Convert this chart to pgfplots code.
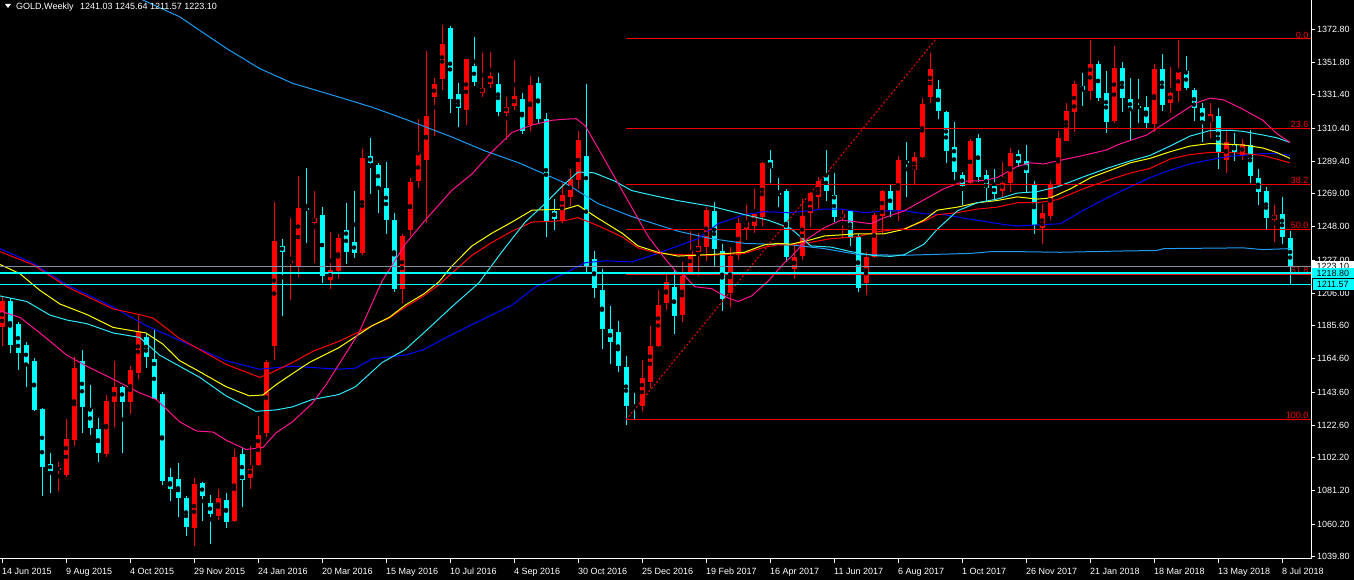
\documentclass[border=0pt]{standalone}
\usepackage{pgfplots}
\pgfplotsset{compat=1.18}
\usepackage{pgfplotstable}
\usepackage{fontspec}
\setmainfont{Liberation Sans}

\definecolor{bull}{HTML}{FF0000}
\definecolor{bear}{HTML}{00FFFF}
\definecolor{mapink}{HTML}{FF1493}
\definecolor{maaqua}{HTML}{30E8F8}
\definecolor{malblue}{HTML}{1E9BF0}
\definecolor{mablue}{HTML}{0000FF}
\definecolor{mared}{HTML}{FF0000}
\definecolor{mayellow}{HTML}{FFFF00}
\definecolor{bidgray}{HTML}{8090A0}
\definecolor{fibred}{HTML}{F00000}

% weekly candles, k = week index from 14 Jun 2015
\pgfplotstableread{
k o h l c
0 1184.4 1204.3 1172.8 1200.8
7 1094.5 1099.6 1080.9 1095.5
8 1091.4 1126.5 1089.8 1113.9
9 1113.2 1165.7 1109.6 1158.7
13 1104.5 1141.7 1102.6 1138.2
14 1137.2 1163.4 1121.4 1147.0
16 1137.0 1159.9 1130.0 1157.6
17 1155.9 1193.1 1151.7 1182.1
24 1057.5 1089.3 1046.6 1085.6
27 1065.3 1082.3 1062.9 1076.9
29 1062.2 1107.3 1061.7 1102.6
31 1089.3 1109.7 1082.3 1096.8
32 1097.3 1128.4 1096.8 1116.7
33 1117.8 1164.1 1115.5 1162.7
34 1172.8 1263.9 1164.1 1238.9
36 1225.6 1253.8 1202.0 1226.0
37 1223.0 1280.3 1216.0 1260.0
39 1250.6 1270.9 1225.3 1253.8
41 1214.1 1244.5 1208.5 1220.7
42 1220.2 1243.6 1214.8 1241.0
45 1231.2 1297.1 1230.0 1291.2
50 1209.0 1243.6 1200.1 1242.2
51 1245.7 1278.6 1242.4 1276.3
52 1277.2 1316.0 1272.8 1293.8
53 1290.3 1359.0 1250.6 1318.3
54 1330.0 1341.7 1305.5 1338.0
55 1341.5 1375.4 1334.7 1363.2
58 1321.9 1354.3 1312.3 1353.9
60 1332.8 1357.8 1330.0 1335.6
61 1338.0 1358.3 1335.6 1343.1
63 1320.2 1330.0 1302.9 1324.0
64 1324.2 1353.4 1321.9 1330.5
66 1312.5 1343.4 1308.3 1337.5
70 1251.5 1275.6 1250.6 1267.9
71 1266.9 1284.5 1260.9 1278.2
72 1277.4 1308.3 1272.1 1302.9
80 1134.7 1164.1 1131.8 1152.4
81 1150.1 1185.6 1146.3 1172.8
82 1172.8 1207.8 1172.3 1198.5
83 1200.1 1218.8 1195.4 1212.9
85 1192.2 1225.8 1188.0 1217.2
86 1219.5 1245.2 1218.8 1233.0
87 1231.9 1244.0 1217.2 1235.9
88 1235.4 1260.4 1226.5 1258.5
91 1206.2 1235.1 1197.3 1229.5
92 1230.0 1253.4 1227.2 1250.3
93 1246.4 1262.0 1239.8 1251.0
94 1248.7 1272.1 1244.0 1256.2
95 1254.5 1289.1 1248.2 1288.4
99 1221.1 1235.9 1214.8 1228.8
100 1229.5 1265.5 1227.0 1255.0
101 1256.7 1270.2 1248.0 1269.3
102 1266.7 1279.6 1259.2 1277.2
105 1253.8 1259.2 1241.2 1256.2
108 1212.5 1232.3 1204.8 1228.8
109 1228.8 1256.9 1228.4 1255.7
110 1255.0 1271.4 1243.3 1270.9
112 1258.5 1292.6 1251.7 1290.1
114 1283.8 1295.4 1275.1 1292.2
115 1292.2 1329.3 1291.2 1325.6
116 1330.0 1357.8 1326.5 1347.6
121 1275.6 1303.4 1274.9 1302.2
125 1270.9 1288.9 1267.0 1275.8
126 1275.6 1297.8 1270.2 1294.7
130 1247.5 1262.3 1237.0 1256.6
131 1255.0 1276.8 1252.2 1274.9
132 1274.4 1308.3 1273.2 1304.1
133 1302.5 1326.3 1302.0 1321.2
134 1320.5 1340.3 1307.8 1338.2
136 1334.0 1366.3 1328.2 1350.8
139 1314.6 1362.0 1313.7 1348.5
144 1313.0 1351.1 1307.6 1348.0
146 1326.5 1349.2 1320.0 1332.8
147 1334.0 1366.3 1327.0 1345.7
151 1314.1 1326.3 1304.3 1319.3
153 1290.3 1309.0 1281.9 1301.3
155 1293.6 1303.6 1290.3 1300.1
159 1252.2 1262.0 1238.2 1255.7
}\bulltab

\pgfplotstableread{
k o h l c
1 1200.8 1203.0 1168.1 1173.5
2 1186.8 1187.9 1157.6 1168.5
3 1173.2 1175.1 1147.0 1161.1
4 1163.4 1165.0 1131.4 1132.3
5 1133.0 1133.5 1077.6 1096.3
6 1098.4 1105.0 1080.0 1094.0
10 1163.4 1170.4 1117.8 1134.2
11 1133.0 1148.2 1116.7 1120.9
12 1120.2 1127.2 1099.1 1105.0
15 1147.0 1147.5 1105.0 1137.2
18 1178.6 1180.9 1158.7 1165.7
19 1164.6 1183.7 1138.9 1139.3
20 1142.4 1143.5 1085.1 1087.5
21 1089.8 1095.6 1074.6 1082.3
22 1088.7 1098.7 1064.5 1076.9
23 1076.9 1078.1 1052.4 1058.2
25 1086.3 1087.0 1062.2 1077.6
26 1073.4 1078.6 1047.7 1066.4
28 1075.5 1080.0 1058.0 1061.7
30 1104.3 1108.5 1071.1 1088.0
35 1235.9 1240.5 1191.5 1232.3
38 1260.0 1284.9 1237.5 1258.5
40 1255.7 1260.4 1212.5 1217.2
43 1245.9 1263.2 1224.2 1232.3
44 1238.2 1270.4 1228.4 1231.6
46 1292.6 1304.1 1269.0 1288.4
47 1286.8 1288.4 1256.9 1273.2
48 1272.8 1289.1 1243.6 1252.0
49 1252.0 1256.6 1207.1 1209.0
56 1373.5 1374.9 1320.0 1328.6
57 1331.7 1338.7 1311.3 1323.0
59 1349.9 1367.9 1337.0 1339.4
62 1338.0 1345.0 1318.3 1320.7
65 1328.6 1332.4 1306.4 1308.3
67 1338.7 1342.7 1313.0 1315.8
68 1316.0 1320.0 1241.7 1251.7
69 1258.0 1265.5 1245.9 1252.9
73 1292.6 1338.0 1219.5 1222.5
74 1227.7 1233.0 1203.1 1209.4
75 1207.8 1221.4 1171.1 1183.3
76 1183.7 1198.0 1161.1 1175.1
77 1181.4 1188.4 1156.4 1159.9
78 1159.4 1166.4 1122.5 1134.7
79 1134.2 1143.1 1126.0 1133.5
84 1210.1 1220.7 1180.4 1191.5
89 1258.0 1263.9 1223.0 1234.2
90 1233.0 1237.0 1194.9 1202.4
96 1290.1 1296.6 1275.6 1284.9
97 1269.3 1279.1 1260.4 1267.9
98 1270.9 1271.6 1225.8 1228.8
103 1280.7 1296.6 1264.4 1270.9
104 1268.1 1282.1 1251.0 1254.1
106 1257.8 1258.5 1235.9 1241.0
107 1241.7 1243.6 1206.6 1209.4
111 1270.4 1274.4 1254.5 1258.5
113 1289.6 1301.8 1267.0 1288.0
117 1334.9 1341.0 1315.8 1321.2
118 1320.5 1321.0 1288.0 1295.9
119 1298.5 1314.1 1277.4 1282.6
120 1280.7 1282.6 1261.6 1273.7
122 1304.1 1306.7 1276.3 1279.6
123 1280.5 1283.8 1263.9 1272.8
124 1273.7 1284.5 1265.5 1268.8
127 1294.3 1296.6 1286.1 1288.4
128 1289.6 1299.7 1270.2 1282.1
129 1274.4 1277.2 1243.6 1249.2
135 1337.0 1345.2 1324.2 1334.5
137 1350.8 1352.7 1327.7 1329.3
138 1332.8 1346.4 1307.1 1314.1
140 1348.5 1352.0 1320.7 1329.3
141 1328.6 1341.7 1302.9 1322.3
142 1324.2 1341.5 1313.4 1323.0
143 1324.0 1330.5 1309.9 1313.7
145 1347.6 1356.9 1321.2 1325.1
148 1346.4 1356.2 1334.7 1335.6
149 1334.5 1335.6 1314.8 1322.8
150 1323.0 1326.3 1301.8 1314.8
152 1318.3 1323.0 1284.5 1295.4
154 1300.1 1307.1 1289.6 1295.0
156 1299.7 1309.0 1275.6 1280.3
157 1279.1 1284.5 1261.6 1270.2
158 1270.9 1273.2 1246.8 1253.4
160 1256.2 1266.7 1237.0 1241.7
161 1241.0 1245.6 1211.6 1223.1
}\beartab

\pgfplotsset{
  wick/.style={only marks, mark=none, forget plot,
    error bars/.cd, y dir=both, y explicit, error mark=none,
    error bar style={draw=#1, line width=1pt, solid}},
  body/.style={only marks, mark=none, forget plot,
    error bars/.cd, y dir=both, y explicit, error mark=none,
    error bar style={draw=#1, line width=5pt, solid}},
  ma/.style={#1, line width=1pt, mark=none, forget plot},
}

\begin{document}
\begin{tikzpicture}[font=\fontsize{9}{10}\selectfont]
\fill[black] (0,0) rectangle (1354pt,580pt);
\begin{axis}[
  at={(0pt,21pt)}, anchor=south west,
  scale only axis, width=1311pt, height=559pt,
  xmin=-0.25, xmax=163.625, ymin=1038.1, ymax=1391.3,
  axis x line*=bottom, axis y line*=right,
  axis line style={-, white, line width=1pt},
  tick style={white, line width=1pt},
  tick align=outside, major tick length=4pt,
  xtick={0,8,...,160},
  xticklabels={14 Jun 2015, 9 Aug 2015, 4 Oct 2015, 29 Nov 2015, 24 Jan 2016,
    20 Mar 2016, 15 May 2016, 10 Jul 2016, 4 Sep 2016, 30 Oct 2016, 25 Dec 2016,
    19 Feb 2017, 16 Apr 2017, 11 Jun 2017, 6 Aug 2017, 1 Oct 2017, 26 Nov 2017,
    21 Jan 2018, 18 Mar 2018, 13 May 2018, 8 Jul 2018},
  xticklabel style={anchor=north west, inner sep=0pt, yshift=-5pt, text=white},
  ytick={1039.8,1060.2,1081.2,1102.2,1122.6,1143.6,1164.6,1185.6,1206.0,
    1227.0,1248.0,1269.0,1289.4,1310.4,1331.4,1351.8,1372.8},
  yticklabels={1039.80,1060.20,1081.20,1102.20,1122.60,1143.60,1164.60,1185.60,
    1206.00,1227.00,1248.00,1269.00,1289.40,1310.40,1331.40,1351.80,1372.80},
  yticklabel style={anchor=west, inner sep=0pt, xshift=2pt, text=white},
]
% wicks and bodies
\addplot[wick=bull] table[x=k, y expr={(\thisrow{h}+\thisrow{l})/2},
  y error expr={(\thisrow{h}-\thisrow{l})/2}] {\bulltab};
\addplot[wick=bear] table[x=k, y expr={(\thisrow{h}+\thisrow{l})/2},
  y error expr={(\thisrow{h}-\thisrow{l})/2}] {\beartab};
\addplot[body=bull] table[x=k, y expr={(\thisrow{o}+\thisrow{c})/2},
  y error expr={max(abs(\thisrow{c}-\thisrow{o})/2,0.35)}] {\bulltab};
\addplot[body=bear] table[x=k, y expr={(\thisrow{o}+\thisrow{c})/2},
  y error expr={max(abs(\thisrow{c}-\thisrow{o})/2,0.35)}] {\beartab};

% moving averages
\addplot[ma=malblue] coordinates {(13,1405) (17.6,1391.3) (22.2,1380.7) (28.0,1360.9)
  (32.2,1348.0) (36.3,1338.7) (42.1,1330.0) (46.3,1323.5) (50.4,1316.0) (56.2,1304.8)
  (60.4,1295.9) (64.6,1288.4) (70.4,1275.6) (74.5,1262.7) (78.7,1254.5) (84.5,1245.2)
  (88.7,1240.5) (92.8,1237.5) (98.6,1236.6) (102.8,1234.2) (107.0,1230.5) (112.75,1230.0)
  (121.1,1231.2) (123.6,1232.3) (126.9,1232.3) (132.3,1231.9) (141.0,1232.8) (144.3,1233.0)
  (145.2,1234.2) (155.1,1234.7) (157.6,1233.6) (161,1234.2)};
\addplot[ma=mablue] coordinates {(-0.25,1234.2) (3.9,1224.9) (8.1,1211.3) (13.9,1197.3)
  (18.0,1185.6) (22.2,1176.3) (28.0,1163.4) (32.2,1158.0) (36.3,1159.9) (42.1,1158.0)
  (44.2,1158.7) (46.3,1164.6) (50.4,1166.9) (52.7,1170.4) (56.2,1179.8) (60.4,1190.3)
  (63.75,1198.5) (66.7,1210.1) (68.75,1214.8) (70.4,1218.8) (72.9,1225.3) (75.4,1226.5)
  (78.7,1225.8) (81.3,1230.0) (84.5,1235.9) (87.0,1240.5) (89.5,1249.9) (92.8,1255.7)
  (95.3,1257.6) (98.6,1256.9) (102.8,1259.2) (104.9,1259.2) (107.8,1256.9) (110.3,1258.0)
  (112.75,1258.2) (115.25,1256.2) (117.75,1255.7) (120.25,1253.4) (122.75,1251.5)
  (125.25,1249.4) (126.9,1248.5) (129.4,1249.2) (132.3,1249.9) (135.2,1258.5)
  (138.1,1266.2) (141.0,1273.2) (143.5,1279.1) (146.0,1283.8) (148.5,1287.7)
  (151.0,1290.3) (153.5,1292.6) (155.1,1293.1) (157.6,1294.3) (159.3,1294.3) (161,1293.1)};
\addplot[ma=mared] coordinates {(-0.25,1232.3) (3.9,1224.0) (8.1,1210.1) (13.9,1196.1)
  (17.1,1192.6) (18.9,1190.3) (22.2,1177.4) (24.3,1171.6) (28.0,1161.1) (32.2,1152.9)
  (33.4,1155.2) (36.3,1162.2) (38.8,1169.2) (42.1,1175.6) (46.3,1185.6) (48.4,1190.3)
  (50.4,1197.3) (52.7,1204.3) (54.6,1211.3) (56.2,1218.5) (58.75,1230.0) (61.25,1238.2)
  (63.75,1245.2) (66.25,1251.0) (68.75,1251.5) (70.4,1251.9) (72.0,1253.8) (74.5,1248.7)
  (77.5,1241.7) (79.5,1234.7) (82.0,1231.2) (84.5,1230.4) (88.7,1230.0) (92.8,1231.2)
  (95.3,1235.1) (97.0,1236.6) (98.6,1236.6) (101.1,1238.2) (103.6,1240.5) (107.0,1241.7)
  (109.0,1244.5) (111.1,1246.0) (112.75,1246.7) (115.25,1251.5) (116.9,1255.7)
  (119.4,1256.9) (121.9,1259.2) (124.4,1260.4) (126.9,1263.2) (129.4,1263.2)
  (131.9,1265.1) (135.2,1272.1) (138.1,1277.2) (141.0,1281.9) (143.5,1284.9)
  (146.0,1290.8) (148.5,1293.6) (151.0,1295.0) (153.5,1295.0) (155.1,1294.3)
  (157.6,1293.1) (159.3,1290.8) (161,1288.4)};
\addplot[ma=mayellow] coordinates {(-0.25,1224.2) (2.25,1218.3) (4.75,1207.8) (7.25,1199.2)
  (10.6,1192.6) (13.9,1184.4) (18.0,1180.9) (20.1,1173.9) (22.2,1163.4) (24.3,1157.6)
  (28.0,1147.0) (30.9,1141.2) (32.6,1141.7) (34.25,1148.2) (36.3,1155.2) (38.4,1162.2)
  (42.1,1171.6) (46.3,1185.6) (48.4,1190.7) (50.4,1198.5) (52.7,1205.5) (54.6,1213.1)
  (56.2,1223.0) (58.75,1235.9) (61.25,1244.0) (63.75,1251.0) (66.25,1258.5) (70.4,1259.2)
  (72.0,1261.6) (74.5,1253.4) (77.5,1244.0) (79.5,1235.9) (82.0,1231.9) (84.5,1229.5)
  (88.7,1230.5) (92.8,1231.9) (95.3,1236.6) (97.0,1237.5) (98.6,1237.0) (101.1,1239.8)
  (102.8,1242.2) (107.0,1243.6) (110.3,1243.6) (112.75,1246.4) (115.25,1252.2)
  (116.9,1258.5) (119.4,1260.4) (121.9,1263.2) (124.4,1264.6) (126.9,1266.9)
  (129.4,1265.5) (131.0,1266.2) (133.6,1272.1) (136.1,1279.1) (138.6,1283.8)
  (141.0,1288.4) (143.5,1291.2) (146.0,1295.4) (148.5,1299.0) (151.0,1300.6)
  (153.5,1300.1) (155.1,1299.7) (157.6,1297.8) (159.3,1295.0) (161,1291.2)};
\addplot[ma=maaqua] coordinates {(-0.25,1204.3) (3.1,1200.8) (6.0,1192.2) (8.1,1189.1)
  (10.6,1186.8) (13.9,1180.9) (17.2,1178.1) (19.7,1166.9) (22.2,1159.9) (24.7,1152.9)
  (28.0,1141.2) (31.75,1131.4) (34.25,1132.3) (36.3,1134.2) (38.8,1138.9) (42.1,1142.0)
  (44.2,1147.0) (47.5,1162.2) (50.4,1170.4) (52.7,1180.9) (56.2,1197.3) (59.6,1212.5)
  (62.5,1232.3) (65.4,1251.0) (67.9,1262.7) (70.4,1275.4) (72.0,1282.6) (74.0,1282.1)
  (76.6,1276.8) (78.7,1270.9) (81.3,1267.9) (84.5,1264.5) (88.7,1260.9) (92.8,1255.7)
  (95.75,1252.2) (98.6,1247.0) (101.1,1235.9) (103.6,1235.2) (106.1,1232.3) (109.0,1229.8)
  (111.1,1229.3) (112.75,1230.3) (115.25,1237.0) (116.9,1246.4) (119.4,1258.0)
  (121.9,1263.2) (124.4,1265.5) (126.9,1269.3) (129.4,1270.2) (131.9,1273.2)
  (135.2,1279.6) (138.1,1284.9) (141.0,1289.6) (143.5,1293.1) (146.0,1299.0)
  (148.5,1305.3) (151.0,1308.8) (153.5,1309.0) (155.1,1308.3) (157.6,1306.0)
  (159.3,1304.3) (161,1301.3)};
\addplot[ma=mapink] coordinates {(-0.25,1194.9) (2.25,1190.7) (4.75,1180.9) (8.1,1166.9)
  (10.6,1159.9) (13.9,1151.7) (17.2,1143.1) (19.3,1138.9) (22.2,1124.8) (24.3,1119.0)
  (26.4,1118.3) (28.0,1113.2) (30.5,1107.3) (32.6,1108.5) (34.25,1117.8) (36.3,1124.8)
  (38.8,1136.5) (40.5,1148.2) (42.1,1161.0) (44.6,1180.9) (47.5,1213.6) (50.4,1237.0)
  (52.7,1251.0) (56.2,1270.9) (58.75,1281.4) (61.25,1295.4) (63.75,1307.6) (66.25,1312.3)
  (68.75,1315.3) (70.4,1316.0) (71.8,1316.3) (72.9,1311.8) (74.5,1297.8) (76.6,1279.1)
  (78.7,1260.4) (80.8,1241.7) (82.9,1227.7) (84.5,1218.3) (85.3,1217.2) (86.6,1210.1)
  (88.7,1208.9) (90.75,1203.1) (92.0,1200.8) (93.7,1204.3) (95.75,1213.6) (97.8,1225.3)
  (98.6,1228.8) (100.7,1240.5) (102.8,1247.5) (104.9,1252.2) (107.0,1251.0) (108.6,1249.9)
  (110.3,1253.8) (112.75,1258.0) (115.25,1265.1) (117.75,1272.1) (120.25,1276.8)
  (122.75,1277.2) (124.4,1279.1) (126.9,1286.1) (128.5,1288.4) (130.2,1287.7)
  (131.9,1289.6) (135.2,1293.1) (138.1,1296.6) (139.4,1299.7) (141.0,1302.5)
  (143.1,1306.0) (145.2,1313.0) (147.7,1321.2) (149.3,1326.3) (151.0,1329.3)
  (152.7,1328.2) (155.1,1322.3) (157.6,1315.3) (159.3,1307.1) (161,1301.3)};

% fibonacci retracement
\addplot[fibred, line width=1pt, dash pattern=on 2pt off 2pt, forget plot]
  coordinates {(78,1126.0) (116.75,1366.7)};
\addplot[fibred, line width=1pt, forget plot] coordinates {(78,1366.7) (163.7,1366.7)};
\addplot[fibred, line width=1pt, forget plot] coordinates {(78,1309.9) (163.7,1309.9)};
\addplot[fibred, line width=1pt, forget plot] coordinates {(78,1274.8) (163.7,1274.8)};
\addplot[fibred, line width=1pt, forget plot] coordinates {(78,1246.4) (163.7,1246.4)};
\addplot[fibred, line width=1pt, forget plot] coordinates {(78,1217.9) (163.7,1217.9)};
\addplot[fibred, line width=1pt, forget plot] coordinates {(78,1126.0) (163.7,1126.0)};
\node[anchor=south east, inner sep=0.6pt, text=fibred] at (axis cs:163.4,1366.7) {0.0};
\node[anchor=south east, inner sep=0.6pt, text=fibred] at (axis cs:163.4,1309.9) {23.6};
\node[anchor=south east, inner sep=0.6pt, text=fibred] at (axis cs:163.4,1274.8) {38.2};
\node[anchor=south east, inner sep=0.6pt, text=fibred] at (axis cs:163.4,1246.4) {50.0};
\node[anchor=south east, inner sep=0.6pt, text=fibred] at (axis cs:163.4,1217.9) {61.8};
\node[anchor=south east, inner sep=0.6pt, text=fibred] at (axis cs:163.4,1126.0) {100.0};

% price lines
\addplot[bidgray, line width=1pt, forget plot] coordinates {(-0.25,1223.1) (163.7,1223.1)};
\addplot[bear, line width=1.6pt, forget plot] coordinates {(-0.25,1218.8) (163.7,1218.8)};
\addplot[bear, line width=1.6pt, forget plot] coordinates {(-0.25,1211.57) (163.7,1211.57)};

\coordinate (pbid) at (axis cs:163.625,1223.1);
\coordinate (pc1) at (axis cs:163.625,1218.8);
\coordinate (pc2) at (axis cs:163.625,1211.57);
\end{axis}

% price labels on the right scale
\node[fill=white, text=black, anchor=west, minimum height=11pt, inner ysep=0pt,
  text width=33pt, inner xsep=4.5pt] at ([xshift=1pt]pbid) {1223.10};
\node[fill=bear, text=black, anchor=west, minimum height=11pt, inner ysep=0pt,
  text width=33pt, inner xsep=4.5pt] at ([xshift=1pt]pc1) {1218.80};
\node[fill=bear, draw=black, line width=0.6pt, text=black, anchor=west, minimum height=11.5pt, inner ysep=0pt,
  text width=33pt, inner xsep=4.5pt] at ([xshift=1pt]pc2) {1211.57};

% header
\fill[white] (5pt,576pt) -- (11pt,576pt) -- (8pt,572pt) -- cycle;
\node[anchor=base west, inner sep=0pt, text=white] at (16pt,570pt)
  {GOLD,Weekly\hspace{6.5pt}1241.03 1245.64 1211.57 1223.10};

\pgfresetboundingbox
\path (0,0) rectangle (1354pt,580pt);
\end{tikzpicture}
\end{document}
